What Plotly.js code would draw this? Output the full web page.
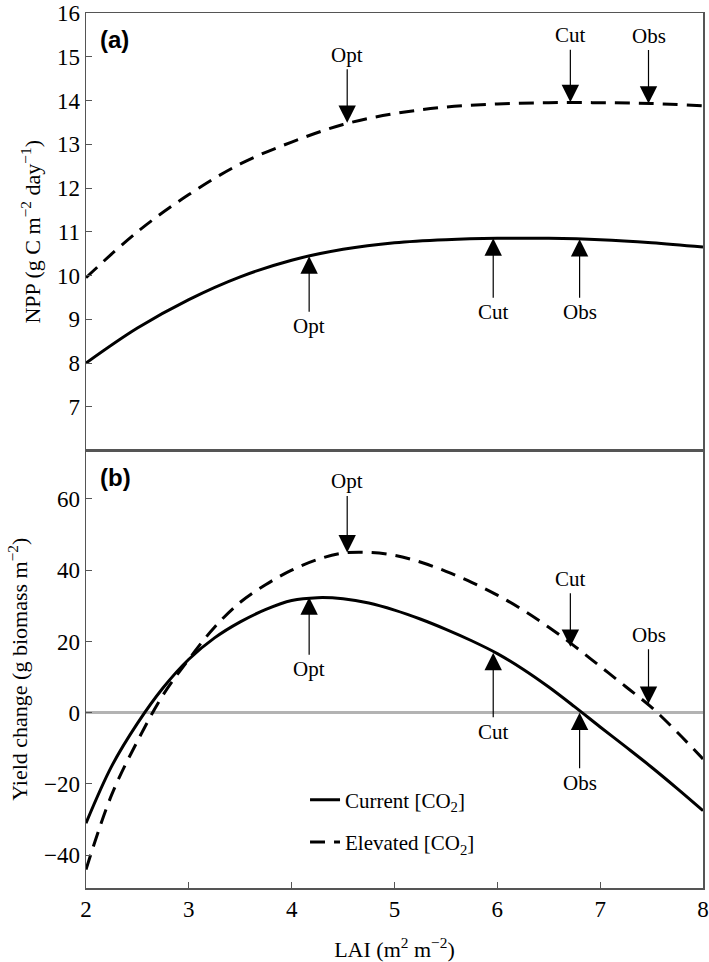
<!DOCTYPE html>
<html>
<head>
<meta charset="utf-8">
<script src="https://cdn.plot.ly/plotly-3.0.1.min.js"></script>
<style>html,body{margin:0;padding:0;background:#fff;}#chart{width:709px;height:962px;}</style>
</head>
<body>
<div id="chart"></div>
<script>
// ---- data ----
const nppLai = [2, 2.5, 3, 3.5, 4, 4.5, 5, 5.5, 6, 6.5, 7, 7.5, 8];
const nppCurrent = [8.0, 8.8, 9.45, 9.97, 10.35, 10.6, 10.75, 10.82, 10.85, 10.85, 10.82, 10.75, 10.65];
const nppElevated = [9.95, 11.0, 11.85, 12.55, 13.05, 13.45, 13.7, 13.85, 13.92, 13.95, 13.95, 13.93, 13.88];

const yieldLai = [2, 2.25, 2.5, 2.75, 3, 3.25, 3.5, 3.75, 4, 4.25, 4.5, 4.75, 5, 5.25, 5.5, 5.75, 6, 6.25, 6.5, 6.75, 7, 7.25, 7.5, 7.75, 8];
const yieldCurrent = [-31, -15, -3, 7, 15, 21, 25.5, 29, 31.5, 32.3, 32, 30.8, 28.8, 26.3, 23.4, 20.2, 16.6, 12.2, 7.2, 1.7, -4, -9.6, -15.3, -21.3, -27.5];
const yieldElevated = [-44, -23, -8, 5, 15, 24, 31, 36, 40, 43, 44.8, 45, 44.2, 42.3, 39.7, 36.6, 33, 28.8, 24, 18.7, 13, 7.3, 1.5, -5.5, -13];

const markLabels = ['Opt', 'Cut', 'Obs'];
const markLaiCurrent = [4.17, 5.96, 6.8];
const markLaiElevated = [4.54, 6.71, 7.47];
const nppMarkCurrent = [10.44, 10.85, 10.83];
const nppMarkElevated = [13.49, 13.96, 13.93];
const yieldMarkCurrent = [32.4, 16.8, 0];
const yieldMarkElevated = [45, 18.5, 2.5];

const xTicks = [2, 3, 4, 5, 6, 7, 8];
const nppTicks = [7, 8, 9, 10, 11, 12, 13, 14, 15, 16];
const yieldTicks = [-40, -20, 0, 20, 40, 60];

const seriesNames = ['Current [CO<sub>2</sub>]', 'Elevated [CO<sub>2</sub>]'];

// ---- styling ----
const serif = 'Liberation Serif, Times New Roman, serif';
const axisColor = '#555';
const dashPat = '15px,9px';

const traces = [
  {x: nppLai, y: nppCurrent, xaxis: 'x2', yaxis: 'y2', mode: 'lines', showlegend: false,
   line: {color: '#000', width: 3, shape: 'spline'}},
  {x: nppLai, y: nppElevated, xaxis: 'x2', yaxis: 'y2', mode: 'lines', showlegend: false,
   line: {color: '#000', width: 3, dash: dashPat, shape: 'spline'}},
  {x: yieldLai, y: yieldCurrent, xaxis: 'x', yaxis: 'y', mode: 'lines', name: seriesNames[0], legendgroup: 'a',
   line: {color: '#000', width: 3, shape: 'spline'}},
  {x: yieldLai, y: yieldElevated, xaxis: 'x', yaxis: 'y', mode: 'lines', name: seriesNames[1], legendgroup: 'b',
   line: {color: '#000', width: 3, dash: dashPat, shape: 'spline'}}
];

const annotations = [];
function arrow(xref, yref, x, y, text, ay) {
  annotations.push({
    xref: xref, yref: yref, x: x, y: y, text: text,
    showarrow: true, ax: 0, ay: ay, arrowhead: 2, arrowsize: 2.9, arrowwidth: 1.2,
    arrowcolor: '#000', standoff: 0, startstandoff: 1,
    font: {family: serif, size: 21, color: '#000'}
  });
}
const nppAyCur = [70, 74, 73], nppAyEl = [-68, -67, -68];
const yAyCur = [72, 79, 70], yAyEl = [-71, -68, -69];
for (let i = 0; i < markLabels.length; i++) {
  arrow('x2', 'y2', markLaiCurrent[i], nppMarkCurrent[i], markLabels[i], nppAyCur[i]);
  arrow('x2', 'y2', markLaiElevated[i], nppMarkElevated[i], markLabels[i], nppAyEl[i]);
  arrow('x', 'y', markLaiCurrent[i], yieldMarkCurrent[i], markLabels[i], yAyCur[i]);
  arrow('x', 'y', markLaiElevated[i], yieldMarkElevated[i], markLabels[i], yAyEl[i]);
}
annotations.push({xref: 'paper', yref: 'paper', x: 0.02, y: 0.987, xanchor: 'left', yanchor: 'top',
  text: '<b>(a)</b>', showarrow: false, font: {family: 'Liberation Sans, Arial, sans-serif', size: 24, color: '#000'}});
annotations.push({xref: 'paper', yref: 'paper', x: 0.02, y: 0.487, xanchor: 'left', yanchor: 'top',
  text: '<b>(b)</b>', showarrow: false, font: {family: 'Liberation Sans, Arial, sans-serif', size: 24, color: '#000'}});

const baseAxis = {
  showline: true, linecolor: axisColor, linewidth: 1.5, mirror: true,
  ticks: 'inside', ticklen: 6, tickcolor: axisColor, tickwidth: 1,
  showgrid: false, zeroline: false,
  tickfont: {family: serif, size: 23, color: '#000'}
};

const layout = {
  width: 709, height: 962,
  margin: {l: 86, r: 6, t: 13, b: 74},
  paper_bgcolor: '#fff', plot_bgcolor: '#fff',
  showlegend: true,
  legend: {x: 0.355, y: 0.124, xanchor: 'left', yanchor: 'top', bgcolor: 'rgba(0,0,0,0)',
    font: {family: serif, size: 21, color: '#000'}, tracegroupgap: 12},
  xaxis: Object.assign({}, baseAxis, {domain: [0, 1], anchor: 'y', range: [2, 8], tickvals: xTicks,
    title: {text: 'LAI (m<sup>2</sup> m<sup>−2</sup>)', font: {family: serif, size: 22, color: '#000'}, standoff: 20}}),
  xaxis2: Object.assign({}, baseAxis, {domain: [0, 1], anchor: 'y2', matches: 'x', range: [2, 8],
    tickvals: xTicks, showticklabels: false, ticks: ''}),
  yaxis: Object.assign({}, baseAxis, {domain: [0, 0.5], anchor: 'x', range: [-49.2, 73.6], tickvals: yieldTicks,
    zeroline: true, zerolinecolor: '#b3b3b3', zerolinewidth: 3,
    title: {text: 'Yield change (g biomass m<sup>−2</sup>)', font: {family: serif, size: 22, color: '#000'}, standoff: 10}}),
  yaxis2: Object.assign({}, baseAxis, {domain: [0.5, 1], anchor: 'x2', range: [6, 16], tickvals: nppTicks,
    title: {text: 'NPP (g C m<sup>−2</sup> day<sup>−1</sup>)', font: {family: serif, size: 22, color: '#000'}, standoff: 10}}),
  annotations: annotations
};

Plotly.newPlot('chart', traces, layout, {displayModeBar: false, staticPlot: true});
</script>
</body>
</html>
